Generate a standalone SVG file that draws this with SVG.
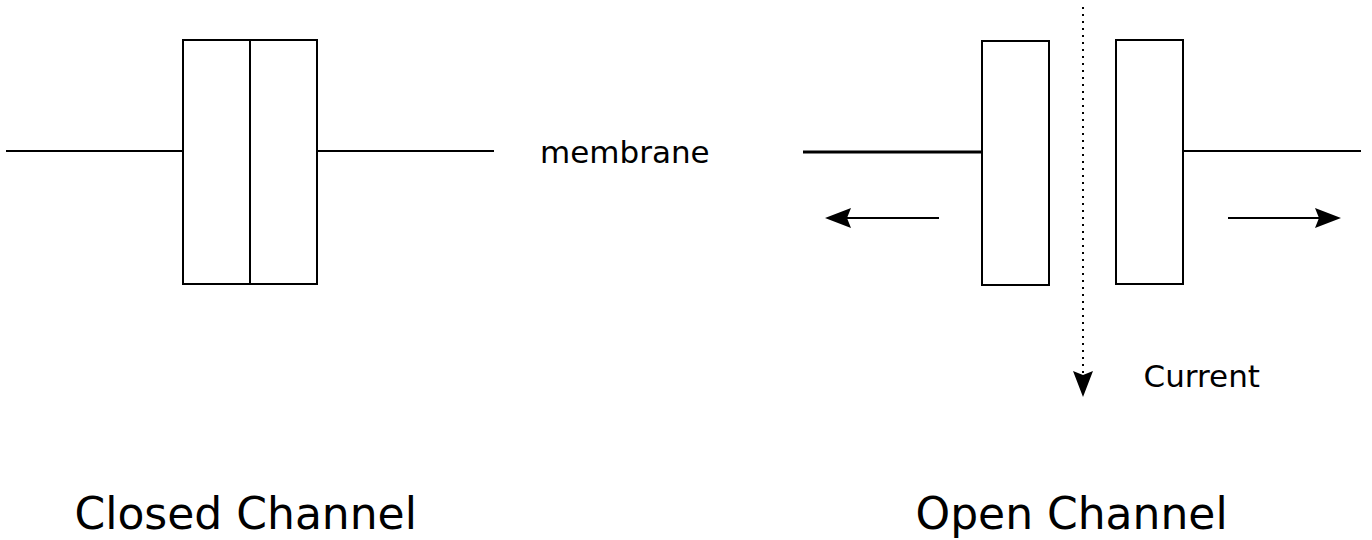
<svg xmlns="http://www.w3.org/2000/svg" width="1372" height="540" viewBox="0 0 1372 540">
  <style>
    .bg { fill: #ffffff; }
    .box { fill: #ffffff; stroke: #000000; stroke-width: 2; }
    .mem { fill: none; stroke: #000000; stroke-width: 2; }
    .arrow { fill: none; stroke: #000000; stroke-width: 2; }
    .dotted { fill: none; stroke: #000000; stroke-width: 2; stroke-dasharray: 2 5; }
    .lbl { font-family: "DejaVu Sans", "Liberation Sans", sans-serif; fill: #000000; }
    .small { font-size: 31px; }
    .big { font-size: 44px; }
  </style>
  <defs>
    <marker id="head" markerUnits="userSpaceOnUse" orient="auto" refX="0" refY="0" markerWidth="30" markerHeight="24" overflow="visible">
      <path d="M21,0 L-5,-10 L-1,0 L-5,10 Z" fill="#000000" stroke="none"/>
    </marker>
  </defs>
  <rect class="bg" x="0" y="0" width="1372" height="540"/>

  <g id="closed-channel">
    <line class="mem" x1="6" y1="151" x2="183" y2="151"/>
    <line class="mem" x1="317" y1="151" x2="494" y2="151"/>
    <rect class="box" x="183" y="40" width="134" height="244"/>
    <line class="mem" x1="250" y1="40" x2="250" y2="284"/>
  </g>

  <g id="open-channel">
    <line class="mem" x1="803" y1="152" x2="982" y2="152" style="stroke-width:3"/>
    <rect class="box" x="982" y="41" width="67" height="244"/>
    <rect class="box" x="1116" y="40" width="67" height="244"/>
    <line class="mem" x1="1183" y1="151" x2="1361" y2="151"/>
  </g>

  <g id="connectors">
    <line class="arrow" x1="939" y1="218" x2="846" y2="218" marker-end="url(#head)"/>
    <line class="arrow" x1="1228" y1="218" x2="1320" y2="218" marker-end="url(#head)"/>
    <line class="dotted" x1="1083" y1="7" x2="1083" y2="376" marker-end="url(#head)"/>
  </g>

  <g id="labels">
    <text class="lbl small" x="540" y="162.5">membrane</text>
    <text class="lbl small" x="1143.5" y="387">Current</text>
    <text class="lbl big" x="74.5" y="529">Closed Channel</text>
    <text class="lbl big" x="915.5" y="529">Open Channel</text>
  </g>
</svg>
